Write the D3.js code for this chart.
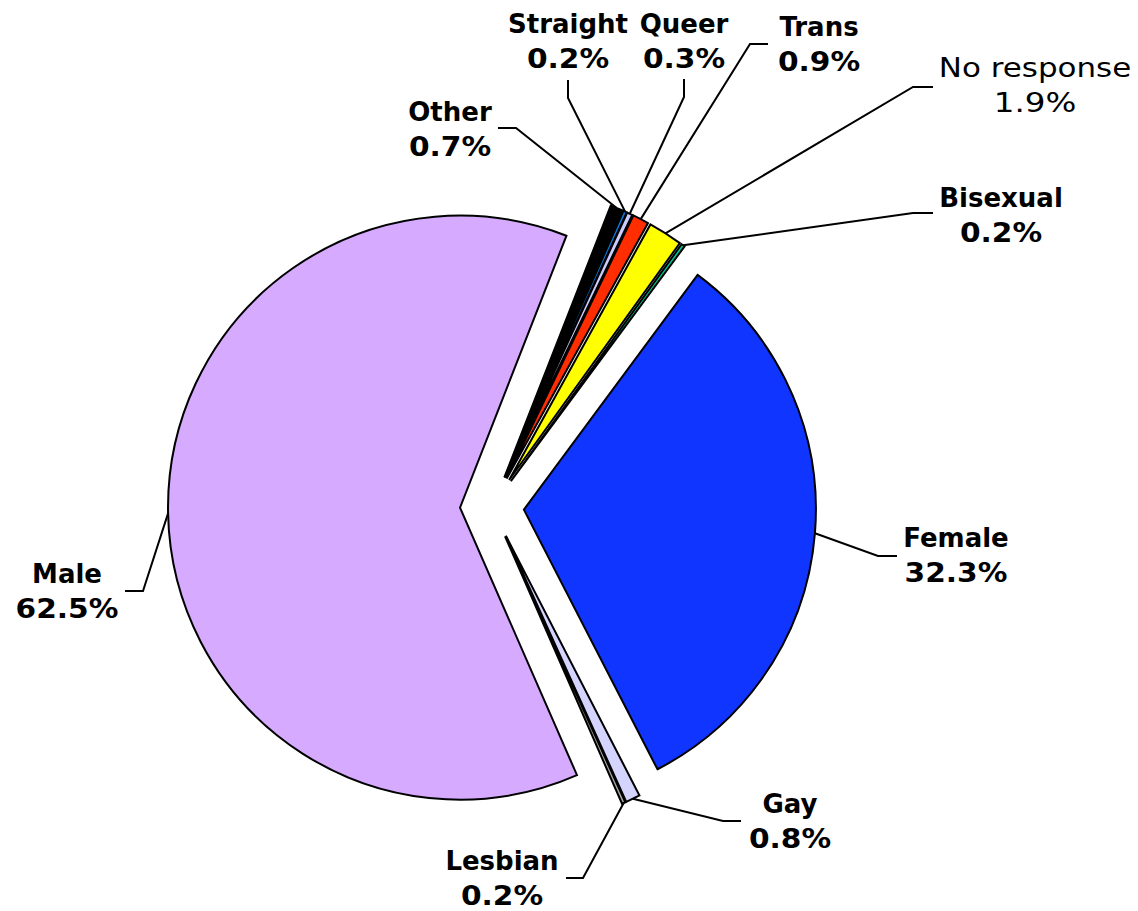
<!DOCTYPE html>
<html>
<head>
<meta charset="utf-8">
<script src="https://cdn.jsdelivr.net/npm/d3@7"></script>
<style>
  body { margin: 0; background: #fff; }
  text { font-family: "DejaVu Sans", Verdana, sans-serif; font-weight: bold; font-size: 26px; fill: #000; }
</style>
</head>
<body>
<svg id="chart" width="1138" height="911"></svg>
<script>
// slices, clockwise from the first one
const categories = ["Female", "Gay", "Lesbian", "Male", "Other", "Straight", "Queer", "Trans", "No response", "Bisexual"];
const shares = [32.3, 0.8, 0.2, 62.5, 0.7, 0.2, 0.3, 0.9, 1.9, 0.2];
const sliceColors = ["#0f35ff", "#d4d4ff", "#a8a8a8", "#d6aaff", "#000000", "#0a78d8", "#ccccff", "#ff2d00", "#ffff00", "#00cc99"];

// label placement: text centre x, first baseline y, elbow and end of the leader line
const labelLayout = {
  "Female":      { x: 956,  y: 547, elbow: [878, 556], end: [897, 556] },
  "Gay":         { x: 790,  y: 813, elbow: [723, 821], end: [741, 821] },
  "Lesbian":     { x: 502,  y: 870, elbow: [583, 878], end: [566, 878] },
  "Male":        { x: 67,   y: 583, elbow: [143, 591], end: [125, 591] },
  "Other":       { x: 450,  y: 121, elbow: [516, 128], end: [498, 128] },
  "Straight":    { x: 568,  y: 33,  elbow: [568, 98],  end: [568, 80] },
  "Queer":       { x: 684,  y: 33,  elbow: [684, 97],  end: [684, 79] },
  "Trans":       { x: 819,  y: 36,  elbow: [750, 44],  end: [768, 44] },
  "No response": { x: 1035, y: 77,  elbow: [913, 87],  end: [933, 87], weight: "normal", stretch: [1.19, 1.25] },
  "Bisexual":    { x: 1001, y: 207, elbow: [913, 213], end: [933, 213] }
};

const svg = d3.select("#chart");
const cx = 492, cy = 507, radius = 292, explode = 32;
const firstAngle = 36.5 * Math.PI / 180;

const rows = categories.map((name, i) => ({ name, value: shares[i], color: sliceColors[i] }));

const pie = d3.pie()
  .sort(null)
  .value(d => d.value)
  .startAngle(firstAngle)
  .endAngle(firstAngle + 2 * Math.PI);

const arc = d3.arc().innerRadius(0).outerRadius(radius);
const arcs = pie(rows);

const offset = d => {
  const mid = (d.startAngle + d.endAngle) / 2;
  return [explode * Math.sin(mid), -explode * Math.cos(mid)];
};

const g = svg.append("g").attr("transform", `translate(${cx},${cy})`);

g.selectAll("path")
  .data(arcs)
  .join("path")
  .attr("transform", d => `translate(${offset(d)})`)
  .attr("d", arc)
  .attr("fill", d => d.data.color)
  .attr("stroke", "#000")
  .attr("stroke-width", 2)
  .attr("stroke-linejoin", "miter");

// leader lines
const line = d3.line();
svg.append("g")
  .selectAll("path")
  .data(arcs)
  .join("path")
  .attr("fill", "none")
  .attr("stroke", "#000")
  .attr("stroke-width", 2)
  .attr("d", d => {
    const mid = (d.startAngle + d.endAngle) / 2;
    const [ox, oy] = offset(d);
    const start = [cx + ox + radius * Math.sin(mid), cy + oy - radius * Math.cos(mid)];
    const L = labelLayout[d.data.name];
    return line([start, L.elbow, L.end]);
  });

// labels: name line and percent line, the percent a little wider like the original face
const labelG = svg.append("g");
arcs.forEach(d => {
  const L = labelLayout[d.data.name];
  const [sName, sPct] = L.stretch || [1, 1.14];
  const lines = [
    { text: d.data.name, y: L.y, sx: sName },
    { text: d.data.value.toFixed(1) + "%", y: L.y + 35, sx: sPct }
  ];
  lines.forEach(l => {
    labelG.append("text")
      .attr("transform", `translate(${L.x},${l.y}) scale(${l.sx},1)`)
      .attr("text-anchor", "middle")
      .style("font-weight", L.weight || "bold")
      .text(l.text);
  });
});
</script>
</body>
</html>
